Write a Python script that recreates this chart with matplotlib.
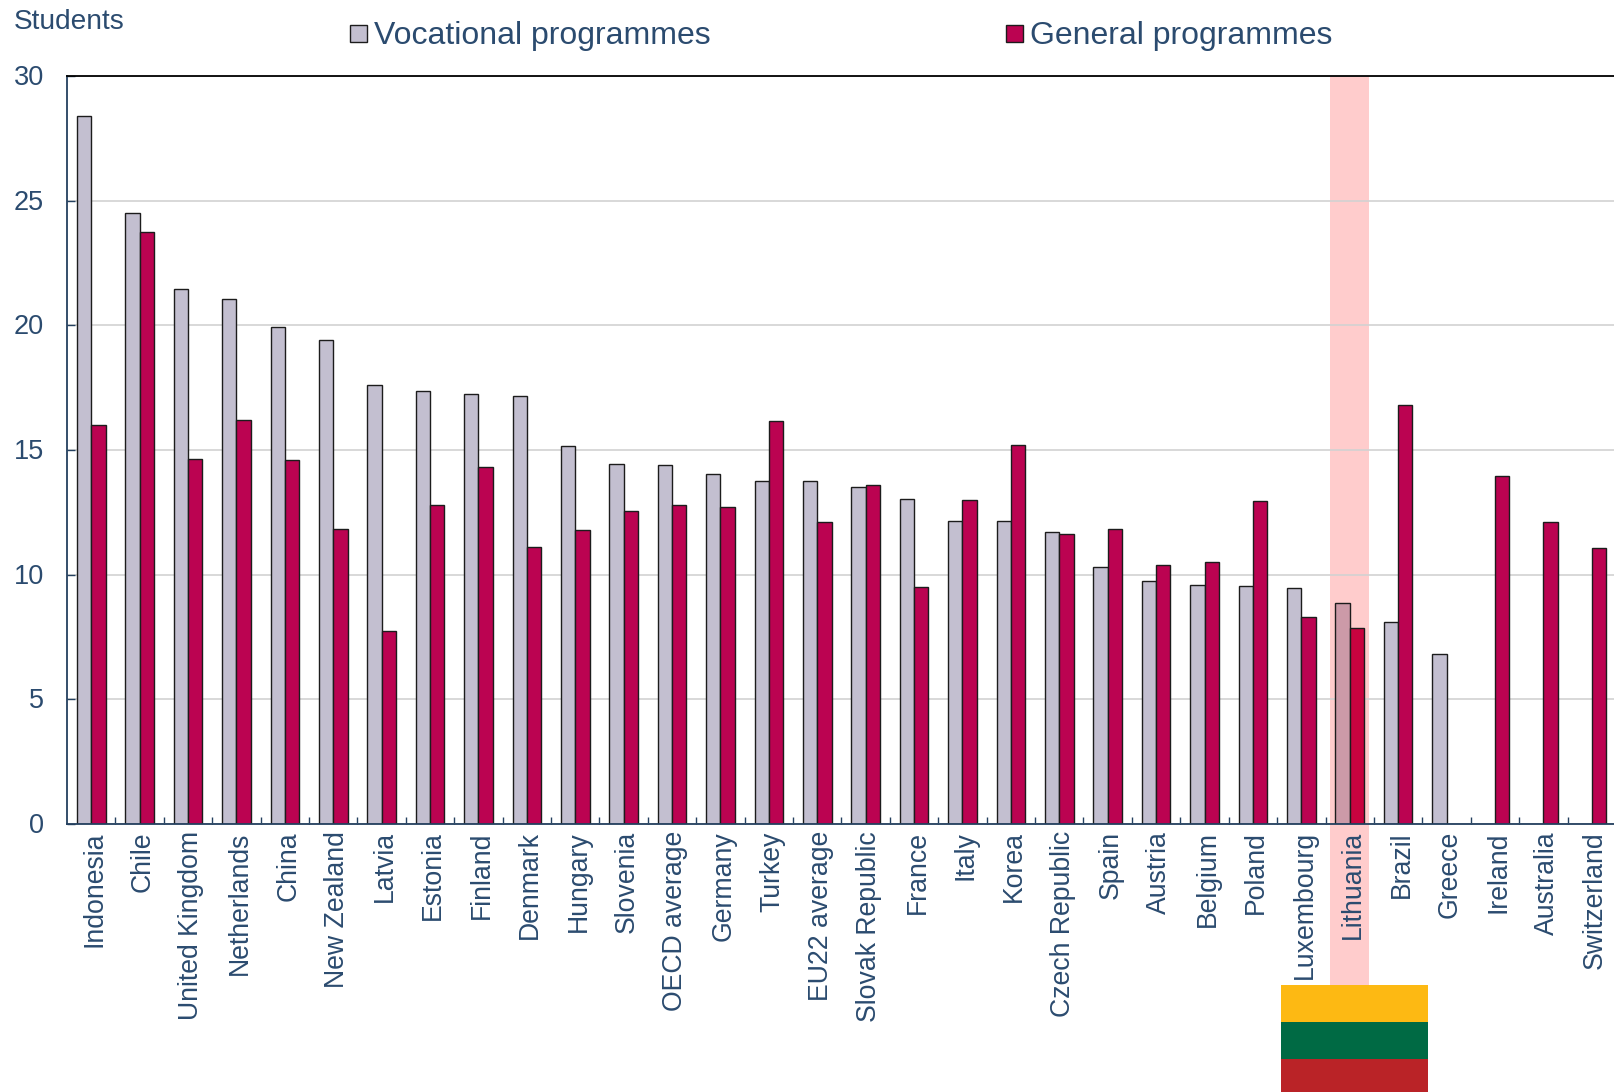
import matplotlib
matplotlib.use("Agg")
import matplotlib.pyplot as plt
from matplotlib.patches import Rectangle
from matplotlib.transforms import ScaledTranslation

plt.rcParams['font.family'] = ['Liberation Sans', 'DejaVu Sans']

paises = ["Indonesia", "Chile", "United Kingdom", "Netherlands", "China", "New Zealand",
          "Latvia", "Estonia", "Finland", "Denmark", "Hungary", "Slovenia", "OECD average",
          "Germany", "Turkey", "EU22 average", "Slovak Republic", "France", "Italy", "Korea",
          "Czech Republic", "Spain", "Austria", "Belgium", "Poland", "Luxembourg", "Lithuania",
          "Brazil", "Greece", "Ireland", "Australia", "Switzerland"]
vocacional = [28.4, 24.5, 21.45, 21.05, 19.95, 19.4, 17.6, 17.35, 17.25, 17.15, 15.15, 14.45,
              14.4, 14.05, 13.75, 13.75, 13.5, 13.05, 12.15, 12.15, 11.7, 10.3, 9.75, 9.6,
              9.55, 9.45, 8.85, 8.1, 6.8, None, None, None]
general = [16.0, 23.75, 14.65, 16.2, 14.6, 11.85, 7.75, 12.8, 14.3, 11.1, 11.8, 12.55, 12.8,
           12.7, 16.15, 12.1, 13.6, 9.5, 13.0, 15.2, 11.65, 11.85, 10.4, 10.5, 12.95, 8.3, 7.85,
           16.8, None, 13.95, 12.1, 11.05]
y_ticks = [0, 5, 10, 15, 20, 25, 30]

texto = '#2b4b6f'
eje = '#24405f'
gris = '#c3bfd0'
rojo = '#bb0351'
borde = '#1c1c1c'

fig = plt.figure(figsize=(16.14, 10.92), dpi=100)
ax = fig.add_axes([67 / 1614, 1 - 824 / 1092, (1614 - 67) / 1614, (824 - 76) / 1092])

i_lt = paises.index("Lithuania")
ancho = 14.3 / 48.4
for i in range(len(paises)):
    # Lituania va mas oscura porque la banda rosa la tine
    c_voc = '#cc9aa8' if i == i_lt else gris
    c_gen = '#c8033f' if i == i_lt else rojo
    if vocacional[i] is not None:
        ax.bar(i - ancho / 2, vocacional[i], ancho, color=c_voc, edgecolor=borde, linewidth=1, zorder=3)
    if general[i] is not None:
        ax.bar(i + ancho / 2, general[i], ancho, color=c_gen, edgecolor=borde, linewidth=1, zorder=3)

ax.set_xlim(-0.5, 31.46)
ax.set_ylim(0, 30)
ax.set_yticks(y_ticks)
ax.set_xticks([i - 0.5 for i in range(1, 32)])
ax.set_xticklabels([])
ax.tick_params(axis='x', direction='in', length=5, width=1, color=eje)
ax.tick_params(axis='y', direction='in', length=6, width=1, color=eje, labelsize=19.5, labelcolor=texto, pad=16.5)
for t in ax.get_yticklabels():
    t.set_verticalalignment('center')
    t.set_transform(t.get_transform() + ScaledTranslation(0, -1.5 / 72, fig.dpi_scale_trans))
ax.grid(axis='y', color='#d2d2d2', linewidth=1.2, zorder=2)
ax.spines['right'].set_visible(False)
ax.spines['top'].set_linewidth(1.3)
ax.spines['top'].set_color('black')
for s in ['left', 'bottom']:
    ax.spines[s].set_linewidth(1.3)
    ax.spines[s].set_color(eje)
for s in ax.spines.values():
    s.set_zorder(6)

# nombres de los paises, girados
for i in range(len(paises)):
    ax.annotate(paises[i], (i, 0), xycoords=('data', 'axes fraction'), xytext=(2.4, -5.2),
                textcoords='offset points', rotation=90, ha='center', va='top',
                fontsize=19.2, color=texto, zorder=5)

# banda de Lituania, por detras de las barras
ax.add_patch(Rectangle((i_lt - 0.41, 0), 0.8, 30, color='#ffcccc', lw=0, zorder=1))
fig.add_artist(Rectangle((1330 / 1614, 1 - 985 / 1092), 39 / 1614, 161 / 1092, color='#ffcccc',
                         lw=0, transform=fig.transFigure, zorder=0))

# bandera
for j, c in enumerate(['#fdb913', '#006a44', '#ba2327']):
    fig.add_artist(Rectangle((1281 / 1614, 1 - (985 + j * 37 + 37) / 1092), 147 / 1614, 37 / 1092,
                             color=c, lw=0, transform=fig.transFigure, zorder=1))

fig.text(14 / 1614, 1 - 22 / 1092, "Students", fontsize=20.2, color=texto, va='center')

# leyenda hecha a mano
fig.add_artist(Rectangle((350 / 1614, 1 - 42 / 1092), 17 / 1614, 17 / 1092, facecolor=gris,
                         edgecolor=borde, lw=1, transform=fig.transFigure))
fig.text(374 / 1614, 1 - 36 / 1092, "Vocational programmes", fontsize=23, color=texto, va='center')
fig.add_artist(Rectangle((1006 / 1614, 1 - 42 / 1092), 17 / 1614, 17 / 1092, facecolor=rojo,
                         edgecolor=borde, lw=1, transform=fig.transFigure))
fig.text(1030 / 1614, 1 - 36 / 1092, "General programmes", fontsize=23, color=texto, va='center')

plt.savefig('out.png', dpi=100)
